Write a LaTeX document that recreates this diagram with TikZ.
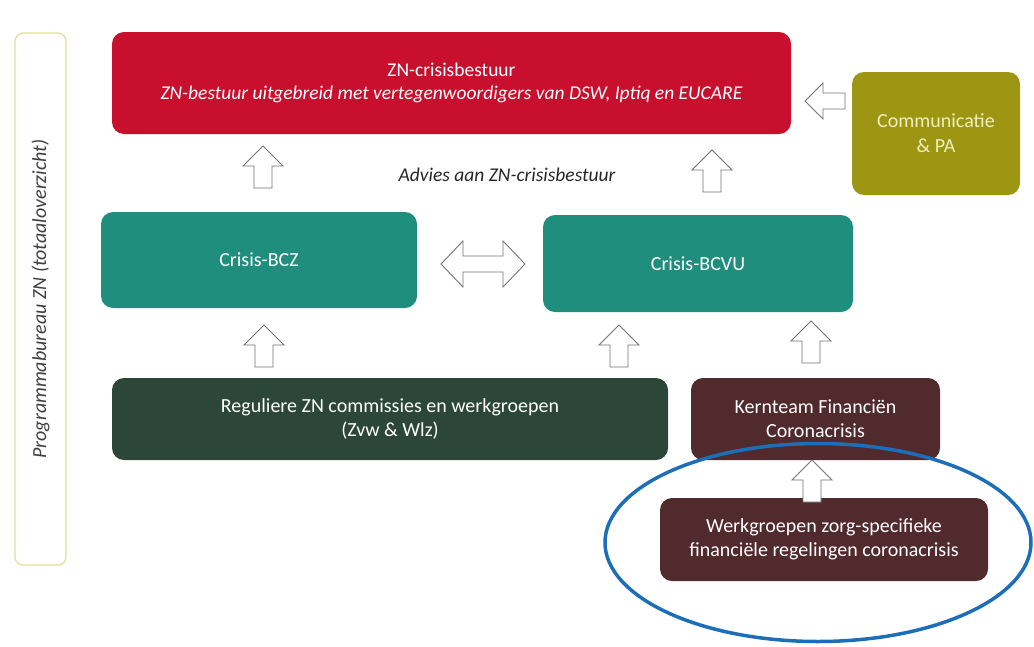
\documentclass[tikz,border=0pt]{standalone}
\usepackage{fontspec}
\setmainfont{Carlito}
\definecolor{zred}{RGB}{200,16,46}
\definecolor{zolive}{RGB}{156,150,18}
\definecolor{zteal}{RGB}{31,142,125}
\definecolor{zdgreen}{RGB}{44,71,57}
\definecolor{zbrown}{RGB}{80,42,44}
\definecolor{zblue}{RGB}{28,110,184}
\definecolor{zframe}{RGB}{222,224,150}
\definecolor{zpale}{RGB}{242,238,190}
\begin{document}
\begin{tikzpicture}[x=1pt,y=-1pt,
  box/.style={rounded corners=12pt, text=white, align=center, inner sep=0pt,
    font=\fontsize{20}{24}\selectfont},
  hollow/.style={draw=black!55, fill=white, line width=0.9pt, line join=miter},
  uparrow/.pic={\path[hollow] (0,-21) -- (20,-1) -- (9,-1) -- (9,21) -- (-9,21) -- (-9,-1) -- (-20,-1) -- cycle;},
  leftarrow/.pic={\path[hollow] (-20,0) -- (-2,-18) -- (-2,-8) -- (20,-8) -- (20,8) -- (-2,8) -- (-2,18) -- cycle;},
  dblarrow/.pic={\path[hollow] (-42,0) -- (-20,-23) -- (-20,-8) -- (20,-8) -- (20,-23) -- (42,0) -- (20,23) -- (20,8) -- (-20,8) -- (-20,23) -- cycle;}
]
\useasboundingbox (0,0) rectangle (1034,646);

% left frame
\node[draw=zframe, line width=1.2pt, rounded corners=8pt, minimum width=51pt, minimum height=532pt, inner sep=0pt] (frame) at (40.5,299) {};
\node[rotate=90, text=black!75, font=\fontsize{20}{22}\selectfont\itshape] (framelabel) at (frame.center) {Programmabureau ZN (totaaloverzicht)};

% boxes
\node[box, fill=zred, minimum width=679pt, minimum height=102pt, font=\fontsize{19.5}{22.5}\selectfont] (top) at (451.5,83)
  {ZN-crisisbestuur\\\textit{ZN-bestuur uitgebreid met vertegenwoordigers van DSW, Iptiq en EUCARE}};
\node[box, fill=zolive, text=zpale, minimum width=168pt, minimum height=123pt, font=\fontsize{20}{25}\selectfont] (comm) at (936,133.5)
  {Communicatie\\\& PA};
\node[box, fill=zteal, minimum width=316pt, minimum height=96pt] (bcz) at (259,260) {Crisis-BCZ};
\node[box, fill=zteal, minimum width=310pt, minimum height=97pt] (bcvu) at (698,263.5) {Crisis-BCVU};
\node[box, fill=zdgreen, minimum width=556pt, minimum height=82pt] (reg) at (390,419)
  {Reguliere ZN commissies en werkgroepen\\(Zvw \& Wlz)};
\node[box, fill=zbrown, minimum width=249pt, minimum height=82pt] (kern) at (815.5,419)
  {Kernteam Financiën\\Coronacrisis};
\node[box, fill=zbrown, minimum width=328pt, minimum height=83pt] (werk) at (824,539.5)
  {Werkgroepen zorg-specifieke\\financiële regelingen coronacrisis};

\node[text=black!85, font=\fontsize{19.5}{22}\selectfont\itshape] (advies) at (507,175) {Advies aan ZN-crisisbestuur};

% block arrows
\pic at (825,101) {leftarrow};
\pic at (263,167) {uparrow};
\pic at (712,171) {uparrow};
\pic at (483,264) {dblarrow};
\pic at (264,346) {uparrow};
\pic at (619,346) {uparrow};
\pic at (811,342) {uparrow};
\begin{scope}[shift={(812,481)}, yscale=0.65, xscale=0.95]
\pic at (0,0) {uparrow};
\end{scope}

% highlight ellipse
\draw[zblue, line width=3.5pt] (werk.center) ++(-6,3) ellipse [x radius=213, y radius=99];
\end{tikzpicture}
\end{document}
